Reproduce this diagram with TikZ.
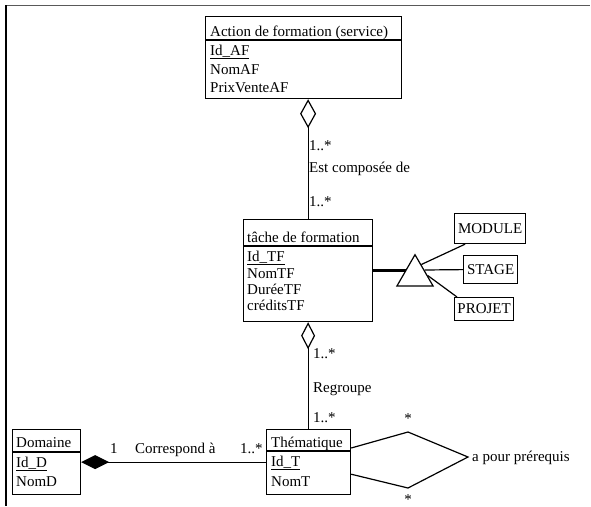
\documentclass[tikz,border=0pt]{standalone}
\usepackage{fontspec}
\setmainfont{Liberation Serif}
\usetikzlibrary{arrows.meta,shapes.geometric,calc,backgrounds}

\begin{document}
\begin{tikzpicture}[x=1pt,y=-1pt,
  font=\fontsize{15}{18}\selectfont,
  classbox/.style={draw, line width=1.2pt, inner sep=0pt, anchor=north west},
  subbox/.style={draw, line width=1.2pt, inner sep=0pt, anchor=north west},
  txt/.style={anchor=base west, inner sep=0pt},
  lbl/.style={anchor=base west, inner sep=0pt},
  assoc/.style={line width=1.2pt},
  compo/.style={assoc, {Diamond[length=28pt, width=14pt]}-}
]
\useasboundingbox (0,0) rectangle (591,506);

% page frame
\draw[black!65, line width=1.2pt] (5,5.5) -- (590,5.5);
\draw[line width=2pt] (6,5) -- (6,506);

% ---- Action de formation (service)
\node[classbox, minimum width=196pt, minimum height=82pt] (af) at (205,16) {};
\draw[line width=1.2pt] (af.west |- 0,40) -- (af.east |- 0,40);
\node[txt] (af-title) at (210,36) {Action de formation (service)};
\node[txt] (af-a1) at (210,55) {\underline{Id\_AF}};
\node[txt] (af-a2) at (210,74) {NomAF};
\node[txt] (af-a3) at (210,92) {PrixVenteAF};

% ---- tâche de formation
\node[classbox, minimum width=129pt, minimum height=102pt] (tf) at (243,219) {};
\draw[line width=1.2pt] (tf.west |- 0,246) -- (tf.east |- 0,246);
\node[txt] (tf-title) at (247,242) {tâche de formation};
\node[txt] (tf-a1) at (247,261) {\underline{Id\_TF}};
\node[txt] (tf-a2) at (247,278) {NomTF};
\node[txt] (tf-a3) at (247,294) {DuréeTF};
\node[txt] (tf-a4) at (247,310) {créditsTF};

% ---- specialisations
\node[draw, fill=white, line width=1.2pt, regular polygon, regular polygon sides=3,
      minimum size=41.6pt, inner sep=0pt] (gen) at (415,275.5) {};
\node[subbox, minimum width=71pt, minimum height=30pt] (mod) at (454,213) {MODULE};
\node[subbox, minimum width=54pt, minimum height=28pt] (stage) at (463,255) {STAGE};
\node[subbox, minimum width=59pt, minimum height=23pt] (proj) at (454,297) {PROJET};

\begin{pgfonlayer}{background}
  \draw[line width=3pt] (tf.east) -- (tf.east -| gen.center);
\end{pgfonlayer}
\draw[assoc] (gen.60) -- ($(mod.south west)+(11,0)$);
\draw[assoc] (gen.30) -- (stage.west);
\draw[assoc] (gen.east) -- ($(proj.north west)+(3,0)$);

% ---- Thématique
\node[classbox, minimum width=84pt, minimum height=65pt] (th) at (266,429) {};
\draw[line width=1.2pt] (th.west |- 0,451) -- (th.east |- 0,451);
\node[txt] (th-title) at (271,447) {Thématique};
\node[txt] (th-a1) at (271,466) {\underline{Id\_T}};
\node[txt] (th-a2) at (271,486) {NomT};

% ---- Domaine
\node[classbox, minimum width=68pt, minimum height=65pt] (dom) at (12,429) {};
\draw[line width=1.2pt] (dom.west |- 0,452) -- (dom.east |- 0,452);
\node[txt] (dom-title) at (16,447) {Domaine};
\node[txt] (dom-a1) at (16,467) {\underline{Id\_D}};
\node[txt] (dom-a2) at (16,486) {NomD};

% ---- Est composée de
\draw[assoc, {Diamond[open, length=29pt, width=16pt]}-] (af.south -| tf.north) -- (tf.north);
\node[lbl] (ec-m1) at (309,150) {1..*};
\node[lbl] (ec-name) at (309,172) {Est composée de};
\node[lbl] (ec-m2) at (309,206) {1..*};

% ---- Regroupe
\draw[assoc, {Diamond[open, length=27pt, width=14pt]}-] (tf.south) -- (tf.south |- th.north);
\node[lbl] (rg-m1) at (313,358) {1..*};
\node[lbl] (rg-name) at (313,392) {Regroupe};
\node[lbl] (rg-m2) at (313,422) {1..*};

% ---- Correspond à
\draw[compo] (dom.east) -- (th.west);
\node[lbl] (co-m1) at (110,453) {1};
\node[lbl] (co-name) at (135,453) {Correspond à};
\node[lbl] (co-m2) at (240,453) {1..*};

% ---- a pour prérequis (reflexive)
\coordinate (pq-top) at (408,432);
\coordinate (pq-right) at (468,457);
\coordinate (pq-bot) at (408,488);
\draw[assoc] ($(th.north east)+(0,19)$) -- (pq-top) -- (pq-right) -- (pq-bot) -- ($(th.south east)+(0,-21)$);
\node[anchor=base, inner sep=0pt] (pq-m1) at (408,423) {*};
\node[anchor=base, inner sep=0pt] (pq-m2) at (408,504) {*};
\node[lbl] (pq-name) at (472,461) {a pour prérequis};
\end{tikzpicture}
\end{document}
